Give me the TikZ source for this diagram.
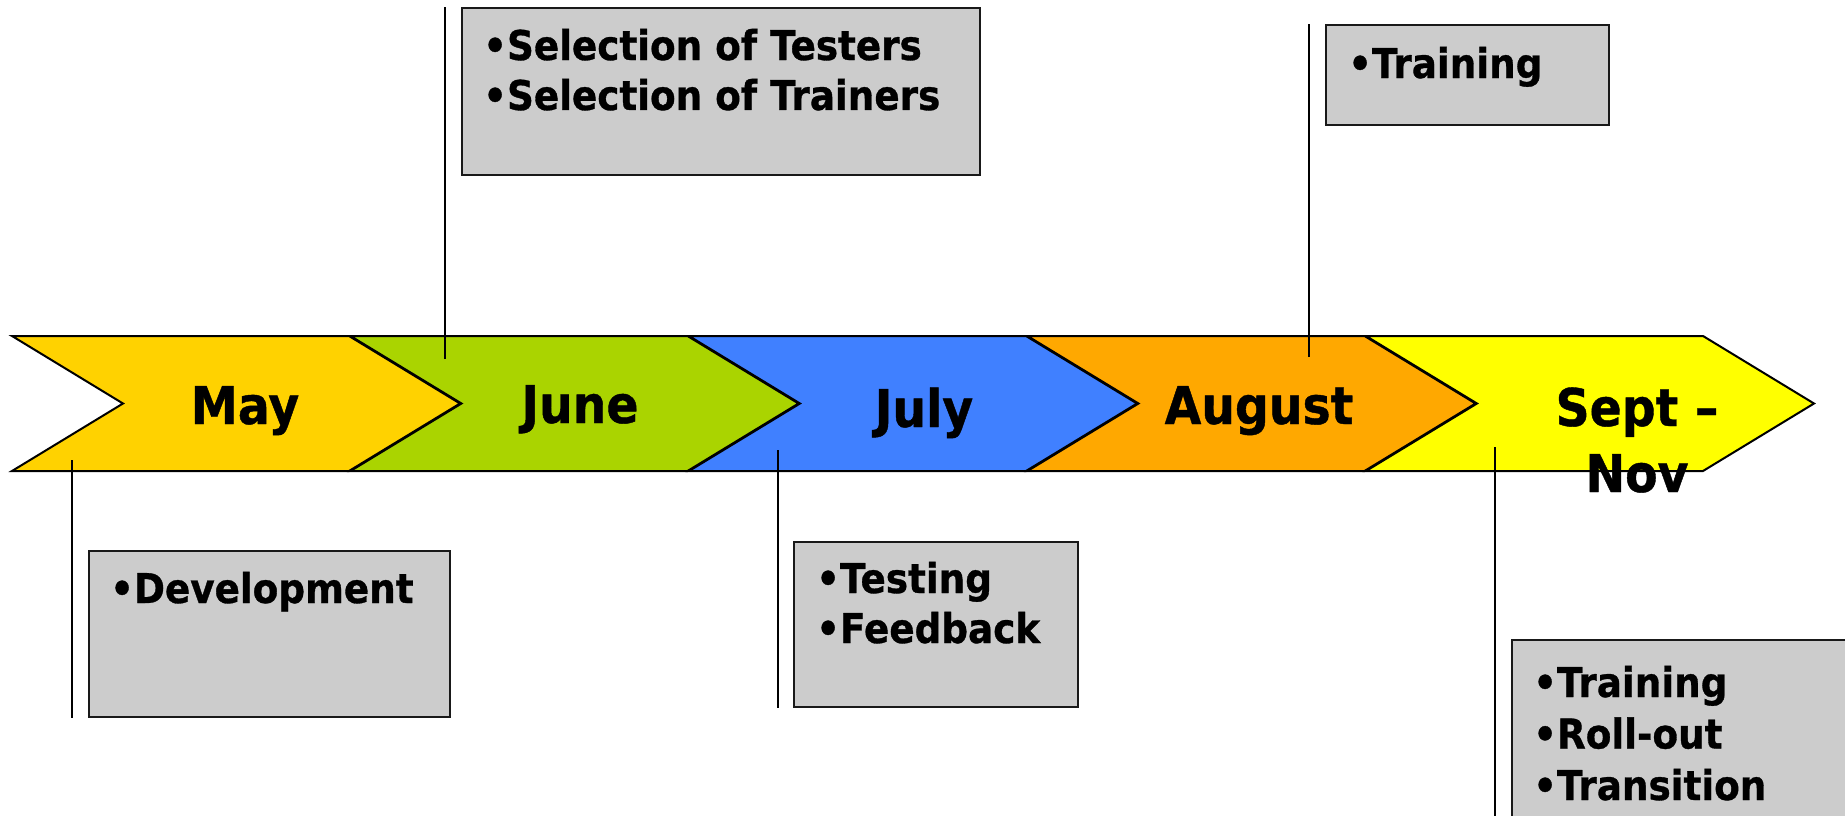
\documentclass[tikz,border=0pt]{standalone}
\usepackage{fontspec}
\setmainfont{DejaVu Sans}[FakeStretch=0.91, BoldFeatures={FakeBold=0.8}]
\definecolor{cmay}{RGB}{255,210,0}
\definecolor{cjun}{RGB}{170,212,0}
\definecolor{cjul}{RGB}{64,128,255}
\definecolor{caug}{RGB}{255,168,0}
\definecolor{csep}{RGB}{255,255,0}
\definecolor{boxgray}{RGB}{204,204,204}
\newcommand{\chevronshape}[2]{%
  \filldraw[chev, fill=#2] (#1,336) -- ++(337,0) -- ++(111,67.5) -- ++(-111,67.5) -- ++(-337,0) -- ++(111,-67.5) -- cycle;}
\newcommand{\twolines}[2]{\vtop{\hbox{#1}\hbox{#2}}}
\newcommand{\threelines}[3]{\vtop{\hbox{#1}\hbox{#2}\hbox{#3}}}
\tikzset{
  chev/.style={draw=black, line width=2pt, line join=miter},
  mlabel/.style={font=\fontsize{52}{66}\selectfont\bfseries, inner sep=0pt, anchor=base, align=center},
  gbox/.style={draw=black!90, fill=boxgray, line width=2pt, inner sep=0pt, anchor=north west},
  btxt/.style={font=\fontsize{41}{50}\selectfont\bfseries, inner sep=0pt, anchor=base west},
  callout/.style={line width=1.8pt, draw=black},
}
\begin{document}
\begin{tikzpicture}[x=1pt,y=-1pt]
\clip (0,0) rectangle (1845,816);
\fill[white] (0,0) rectangle (1845,816);
% chevrons
\chevronshape{1366}{csep}
\chevronshape{1027.5}{caug}
\chevronshape{689}{cjul}
\chevronshape{350.5}{cjun}
\chevronshape{12}{cmay}
% month labels
\node[mlabel] (may) at (245,424) {May};
\node[mlabel] (jun) at (580,423) {June};
\node[mlabel] (jul) at (924,427) {July};
\node[mlabel] (aug) at (1259,424) {August};
\node[mlabel] (sep) at (1637,492) {Sept --\\Nov};
% boxes
\node[gbox, minimum width=361pt, minimum height=166pt] (b1) at (88,550) {};
\node[gbox, minimum width=518pt, minimum height=167pt] (b2) at (461,7) {};
\node[gbox, minimum width=283pt, minimum height=100pt] (b3) at (1325,24) {};
\node[gbox, minimum width=284pt, minimum height=165pt] (b4) at (793,541) {};
\node[gbox, minimum width=400pt, minimum height=250pt] (b5) at (1511,639) {};
% callout lines
\coordinate (c1) at (72,460);
\coordinate (c2) at (445,359);
\coordinate (c3) at (778,450);
\coordinate (c4) at (1309,357);
\coordinate (c5) at (1495,447);
\coordinate (c5e) at (1495,820);
\draw[callout] (c1) -- (c1 |- b1.south);
\draw[callout] (c2) -- (c2 |- b2.north);
\draw[callout] (c3) -- (c3 |- b4.south);
\draw[callout] (c4) -- (c4 |- b3.north);
\draw[callout] (c5) -- (c5e);
% box texts
\node[btxt] (t1) at (110,603) {•Development};
\node[btxt] (t2) at (483,60) {\twolines{•Selection of Testers}{•Selection of Trainers}};
\node[btxt] (t3) at (1348,78) {•Training};
\node[btxt] (t4) at (816,593) {\twolines{•Testing}{•Feedback}};
\node[btxt, font=\fontsize{41}{51.5}\selectfont\bfseries] (t5) at (1533,697) {\threelines{•Training}{•Roll-out}{•Transition}};
\end{tikzpicture}
\end{document}
